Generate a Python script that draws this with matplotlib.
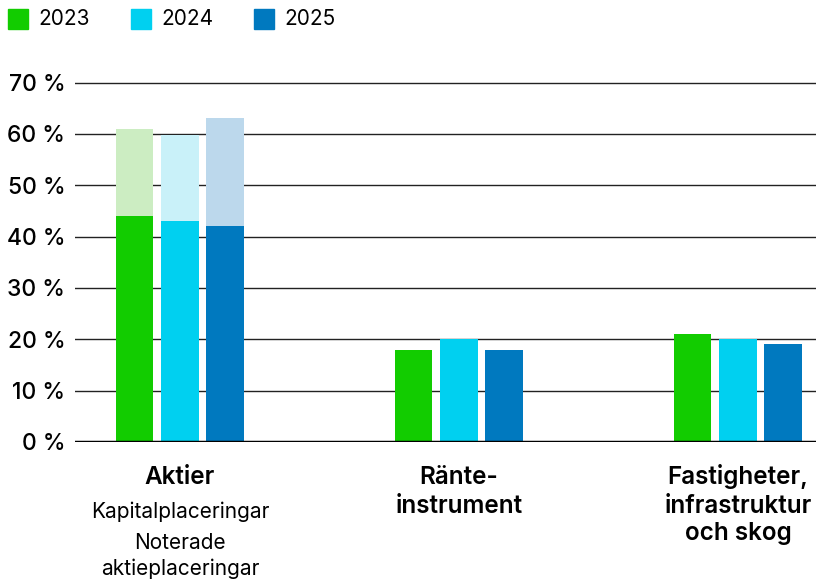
import numpy as np
import matplotlib.pyplot as plt
from matplotlib.patches import Rectangle

plt.rcParams['font.family'] = ['Inter', 'DejaVu Sans']

# Data (procent)
kategorier = ['Aktier', 'Ränte-\ninstrument', 'Fastigheter,\ninfrastruktur\noch skog']
aar = ['2023', '2024', '2025']
v2023 = [44, 18, 21]
v2024 = [43, 20, 20]
v2025 = [42, 18, 19]
# Kapitalplaceringar totalt for Aktier (ljus del ovanpa noterade)
aktier_totalt = [61, 59.8, 63]

farger = ['#12cc00', '#00d0f0', '#0079bf']
ljusa = ['#ccedc2', '#c9f1f9', '#bcd8ec']

fig = plt.figure(figsize=(8.18, 5.81), dpi=100)
ax = fig.add_axes([75 / 818, 1 - 442 / 581, 741 / 818, 361 / 581])

x = np.arange(len(kategorier))
steg = 0.163
bredd = 0.136
serier = [v2023, v2024, v2025]

for gridy in range(10, 80, 10):
    ax.axhline(gridy, color='#222222', lw=1.0, zorder=1)

for i, vals in enumerate(serier):
    pos = x + (i - 1) * steg
    # ljus del for Aktier
    ax.bar(pos[0], aktier_totalt[i], width=bredd, color=ljusa[i], zorder=2)
    ax.bar(pos, vals, width=bredd, color=farger[i], zorder=3, label=aar[i])

ax.axhline(0, color='black', lw=2.5, zorder=4)

ax.set_xlim(-0.3763, 2.2796)
ax.set_ylim(0, 70.3)
ax.set_yticks(range(0, 80, 10))
ax.set_yticklabels([f'{v} %' for v in range(0, 80, 10)], fontsize=16.5, fontweight='medium')
ax.tick_params(axis='y', length=0, pad=7)
ax.set_xticks([])
for s in ax.spines.values():
    s.set_visible(False)

# kategorietiketter (en rad i taget, baslinje)
def rad(xp, yp, txt, fs, fw):
    ax.text(xp, yp, txt, ha='center', va='baseline', fontsize=fs, fontweight=fw)

rad(x[0], -8.14, 'Aktier', 17.5, 'semibold')
rad(x[0], -14.74, 'Kapitalplaceringar', 15, 'normal')
rad(x[0], -20.75, 'Noterade', 15, 'normal')
rad(x[0], -25.98, 'aktieplaceringar', 15, 'normal')

rader_y = [-8.14, -13.77, -19.0]
for k in (1, 2):
    for j, txt in enumerate(kategorier[k].split('\n')):
        rad(x[k], rader_y[j], txt, 17.5, 'semibold')

# legend
leg_x = [8, 131, 254]
for i in range(3):
    fig.patches.append(Rectangle((leg_x[i] / 818, 1 - 29 / 581), 20 / 818, 20 / 581,
                                 transform=fig.transFigure, color=farger[i]))
    fig.text((leg_x[i] + 30) / 818, 1 - 19 / 581, aar[i], ha='left', va='center', fontsize=15)

fig.savefig('out.png', dpi=100)
